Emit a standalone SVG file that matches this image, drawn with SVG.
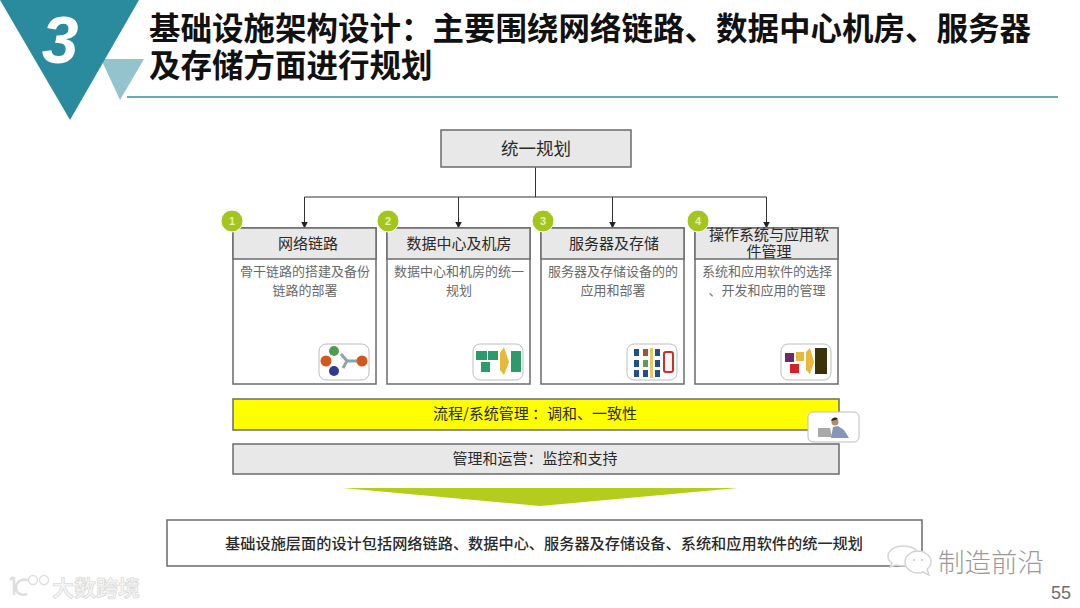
<svg xmlns="http://www.w3.org/2000/svg" width="1080" height="608" viewBox="0 0 1080 608">
<defs>
<style>
text{font-family:"Liberation Sans","Noto Sans CJK SC",sans-serif;text-anchor:middle}
.box{fill:#fff;stroke:#6b6b6b;stroke-width:1.5}
.head{fill:#e8e8e8;stroke:#6b6b6b;stroke-width:1.5}
.ht{font-family:"Noto Sans CJK SC",sans-serif;font-size:15px;fill:#2a2a2a}
.bt{font-family:"Noto Sans CJK SC",sans-serif;font-size:13px;fill:#6a6a6a}
.badge{fill:#a4c520;stroke:#fff;stroke-width:1}
.bn{font-size:11px;font-weight:bold;fill:#e6f0b0}
.ic{fill:#fff;stroke:#bdbdbd;stroke-width:1}
.title{font-family:"Noto Sans CJK SC",sans-serif;font-size:31.500px;font-weight:700;fill:#111;text-anchor:start}
.wm{fill:#fff;stroke:#d4d4d4;stroke-width:1.5}
</style>
<marker id="arr" markerWidth="7" markerHeight="7" refX="6" refY="3.500" orient="auto" markerUnits="userSpaceOnUse"><path d="M0 0L7 3.500L0 7Z" fill="#222"/></marker>
</defs>
<rect width="1080" height="608" fill="#fff"/>
<g id="header">
<polygon points="101,59 144,59 120,100" fill="#93c3cc"/>
<polygon points="0,0 139,0 70,120" fill="#2b8b9e"/>
<text x="60" y="63" font-size="66" font-weight="bold" font-style="italic" fill="#fff">3</text>
<text class="title" x="149" y="40">基础设施架构设计：主要围绕网络链路、数据中心机房、服务器</text>
<text class="title" x="149" y="77">及存储方面进行规划</text>
<line x1="127" y1="97" x2="1058" y2="97" stroke="#3f8a9b" stroke-width="1.500"/>
</g>
<g id="connectors" fill="none" stroke="#333" stroke-width="1">
<path d="M535.500 167V197"/>
<path d="M304.500 197H766.500"/>
<path d="M304.500 197V227.500" marker-end="url(#arr)"/>
<path d="M458.500 197V227.500" marker-end="url(#arr)"/>
<path d="M612.500 197V227.500" marker-end="url(#arr)"/>
<path d="M766.500 197V227.500" marker-end="url(#arr)"/>
</g>
<g id="node-top">
<rect class="head" x="441" y="130" width="190" height="37"/>
<text class="ht" x="536" y="155" style="font-size:17.500px">统一规划</text>
</g>
<g id="node-1">
<rect class="box" x="233" y="228" width="143" height="156"/>
<rect class="head" x="233" y="228" width="143" height="31"/>
<text class="ht" x="308" y="249">网络链路</text>
<text class="bt" x="305" y="276">骨干链路的搭建及备份</text>
<text class="bt" x="305" y="295">链路的部署</text>
<rect class="ic" x="319" y="344" width="50" height="36" rx="7"/>
<path d="M341 354L347 361L343 368M347 361L357 361" fill="none" stroke="#8aa5a5" stroke-width="3"/>
<circle cx="334" cy="351" r="5" fill="#4e9e4e"/><circle cx="326" cy="361" r="5.500" fill="#d4581c"/><circle cx="334" cy="371" r="5" fill="#2f3a90"/><circle cx="362" cy="361" r="5.500" fill="#d4581c"/>
<circle cx="232" cy="221" r="11" class="badge"/><text class="bn" x="232" y="225">1</text>
</g>
<g id="node-2">
<rect class="box" x="387" y="228" width="143" height="156"/>
<rect class="head" x="387" y="228" width="143" height="31"/>
<text class="ht" x="459" y="249">数据中心及机房</text>
<text class="bt" x="459" y="276">数据中心和机房的统一</text>
<text class="bt" x="459" y="295">规划</text>
<rect class="ic" x="473" y="344" width="50" height="36" rx="7"/>
<path d="M476 351h11v9h-11zM488 351h10v9h-10zM481 362h9v10h-9zM511 351h10v21h-10z" fill="#2c9a6a"/><path d="M500 353l4-6 5 15-5 13-4-5z" fill="#e8b83c"/>
<circle cx="388" cy="221" r="11" class="badge"/><text class="bn" x="388" y="225">2</text>
</g>
<g id="node-3">
<rect class="box" x="541" y="228" width="143" height="156"/>
<rect class="head" x="541" y="228" width="143" height="31"/>
<text class="ht" x="614" y="249">服务器及存储</text>
<text class="bt" x="613" y="276">服务器及存储设备的的</text>
<text class="bt" x="613" y="295">应用和部署</text>
<rect class="ic" x="627" y="344" width="50" height="36" rx="7"/>
<path d="M634 349h5v7h-5zM634 360h5v7h-5zM634 370h5v7h-5zM655 349h5v7h-5zM655 360h5v7h-5zM655 370h5v7h-5zM643 370h5v7h-5z" fill="#1f4f8f"/><path d="M643 349h5v7h-5z" fill="#a0523c"/><path d="M643 360h5v7h-5z" fill="#5a9a5a"/><rect x="650" y="348" width="3" height="30" fill="#e8c860"/><rect x="664" y="352" width="9" height="20" rx="2" fill="#f4f4f4" stroke="#c4322c" stroke-width="2"/>
<circle cx="543" cy="221" r="11" class="badge"/><text class="bn" x="543" y="225">3</text>
</g>
<g id="node-4">
<rect class="box" x="695" y="228" width="143" height="156"/>
<rect class="head" x="695" y="228" width="143" height="31"/>
<text class="ht" x="769" y="240">操作系统与应用软</text>
<text class="ht" x="769" y="257">件管理</text>
<text class="bt" x="767" y="276">系统和应用软件的选择</text>
<text class="bt" x="767" y="295">、开发和应用的管理</text>
<rect class="ic" x="781" y="344" width="50" height="36" rx="7"/>
<path d="M785 353h9v9h-9z" fill="#6b2a70"/><path d="M796 352h8v9h-8z" fill="#e8b83c"/><path d="M790 364h9v9h-9z" fill="#d81f26"/><path d="M806 352l4-4 4 14-4 12-4-4z" fill="#e8b83c"/><rect x="815" y="348" width="12" height="26" fill="#3a3208"/>
<circle cx="698" cy="221" r="11" class="badge"/><text class="bn" x="698" y="225">4</text>
</g>
<g id="bar-process">
<rect x="233" y="399" width="606" height="31" fill="#ffff00" stroke="#6b6b6b" stroke-width="1.500"/>
<text class="ht" x="535" y="419">流程/系统管理 ：调和、一致性</text>
<rect x="808" y="412" width="51" height="30" rx="5" fill="#fff" stroke="#bdbdbd"/>
<path d="M818 428h12l2 9h-14z" fill="#a9a9a9"/><path d="M831 438l2-11 5-1 6 4 5 8z" fill="#8297ba"/><circle cx="835" cy="422" r="3.500" fill="#b58a70"/><path d="M831 421a4 4 0 0 1 7-2l-3 1z" fill="#2a2018"/>
</g>
<g id="bar-ops">
<rect class="head" x="233" y="444" width="606" height="30"/>
<text class="ht" x="535" y="464">管理和运营：监控和支持</text>
</g>
<polygon id="down-arrow" points="343,488 738,488 540,506" fill="#b4cc1c"/>
<g id="summary">
<rect x="167" y="520" width="755" height="46" fill="#fff" stroke="#6b6b6b" stroke-width="1.500"/>
<text x="544" y="549" style="font-family:'Noto Sans CJK SC',sans-serif;font-size:15.200px;font-weight:500;fill:#2a2a2a">基础设施层面的设计包括网络链路、数据中心、服务器及存储设备、系统和应用软件的统一规划</text>
</g>
<g id="watermark">
<path class="wm" d="M903 546c-9 0-15 5-15 10 0 3 2 6 4 7l-2 4 6-2c3 1 6 1 9 1 9 0 14-5 14-10 0-6-7-10-16-10z"/>
<path class="wm" d="M918 551c-7 0-13 5-13 11s6 11 13 11c2 0 3 0 5-1l6 3-2-6c3-2 4-4 4-7 0-6-6-11-13-11z"/>
<circle cx="914" cy="560" r="1" fill="#c8c8c8"/><circle cx="922" cy="560" r="1" fill="#c8c8c8"/>
<text x="991" y="572" style="font-family:'Noto Sans CJK SC',sans-serif;font-size:26.500px;font-weight:300;fill:#9a9a9a">制造前沿</text>
<text x="1061" y="599" style="font-size:18px;fill:#6f6f6f">55</text>
<path d="M13 577l-3 3M14 577v18M28 580c-8-2-12 3-12 8s5 8 11 6" fill="none" stroke="#dedede" stroke-width="2.500"/>
<circle cx="33" cy="580" r="4.500" fill="none" stroke="#dedede" stroke-width="1.500"/><circle cx="44" cy="580" r="4.500" fill="none" stroke="#dedede" stroke-width="1.500"/>
<text x="96" y="596" style="font-family:'Noto Sans CJK SC',sans-serif;font-size:22px;font-weight:700;fill:#f4f4f4;stroke:#d6d6d6;stroke-width:.6px">大数跨境</text>
</g>
</svg>
